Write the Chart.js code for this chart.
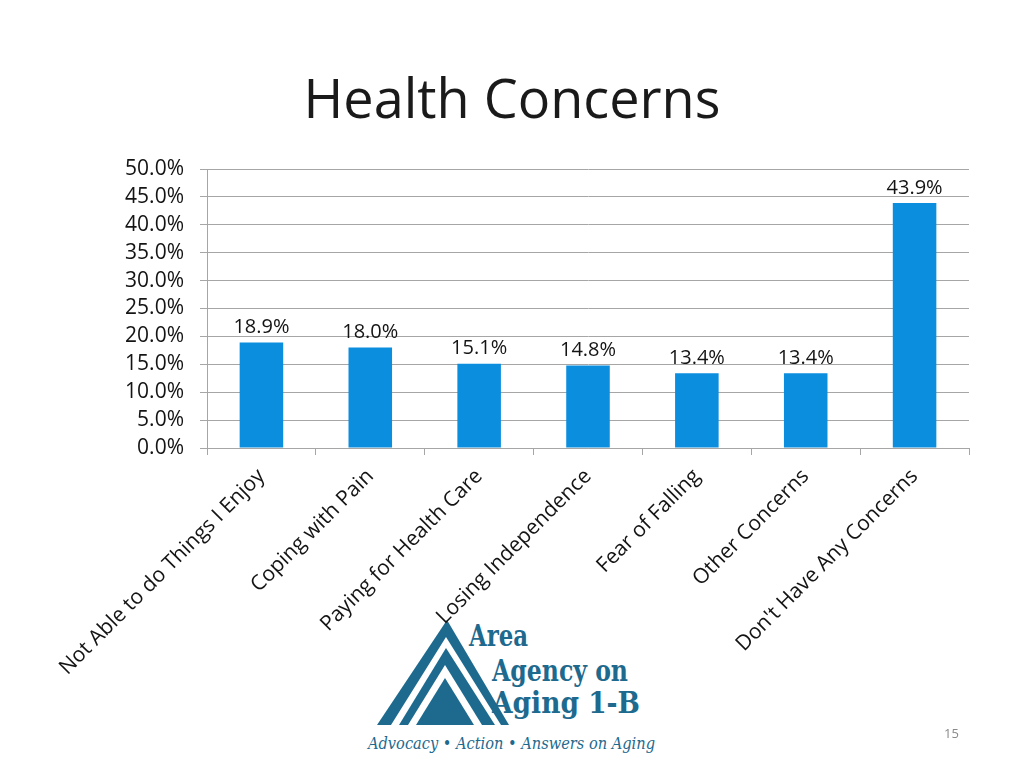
<!doctype html>
<html lang="en"><head>
<meta charset="utf-8"/>
<title>Health Concerns</title>
<script src="https://cdn.jsdelivr.net/npm/chart.js@4.4.6/dist/chart.umd.min.js"></script>
<style>
  *{box-sizing:border-box}
  body{margin:0;background:#fff;width:1024px;height:768px;overflow:hidden;position:relative;font-family:"Open Sans",sans-serif}
  h1{position:absolute;left:0;top:61px;width:1024px;margin:0;text-align:center;font-weight:400;font-size:54px;line-height:72px;color:#1a1a1a}
  #logo{position:absolute;left:0;top:0;z-index:1}
  .wrap{position:absolute;left:0;top:0;width:1024px;height:768px;z-index:2}
  .page{position:absolute;left:944px;top:724px;font-size:13px;color:#8a8a8a;z-index:3}
</style></head>
<body>
<h1>Health Concerns</h1>
<svg id="logo" width="1024" height="768">
  <g fill="#1e6a8e">
    <polygon points="447,620 377,725 509,725"/>
    <polygon points="446,637 391,725 501,725" fill="#fff"/>
    <polygon points="446,648 399,725 495,725"/>
    <polygon points="445,665 408,725 482,725" fill="#fff"/>
    <polygon points="445,678 416,725 474,725"/>
    <text x="469" y="646" font-family="DejaVu Serif Condensed" font-weight="bold" font-size="29" textLength="59" lengthAdjust="spacingAndGlyphs">Area</text>
    <text x="492" y="681" font-family="DejaVu Serif Condensed" font-weight="bold" font-size="30" textLength="136" lengthAdjust="spacingAndGlyphs">Agency on</text>
    <text x="492" y="713" font-family="DejaVu Serif Condensed" font-weight="bold" font-size="30" textLength="148" lengthAdjust="spacingAndGlyphs">Aging 1-B</text>
    <text x="368" y="749" font-family="DejaVu Serif Condensed" font-style="italic" font-size="17" textLength="287" lengthAdjust="spacingAndGlyphs">Advocacy • Action • Answers on Aging</text>
  </g>
</svg>
<div class="wrap"><canvas id="c"></canvas></div>
<div class="page">15</div>
<script>
// values
const categories = ['Not Able to do Things I Enjoy','Coping with Pain','Paying for Health Care',
  'Losing Independence','Fear of Falling','Other Concerns',"Don't Have Any Concerns"];
const percents = [18.9, 18.0, 15.1, 14.8, 13.4, 13.4, 43.9];
const yTicks = [0, 5, 10, 15, 20, 25, 30, 35, 40, 45, 50];

const FONT = '"Open Sans", sans-serif';
const INK = '#141414', GRID = '#a6a6a6';
const fmt = v => Number(v).toFixed(1) + '%';

// no datalabels plugin offline, so draw the value above each bar
const barValues = {
  id: 'barValues',
  afterDatasetsDraw(chart) {
    const ctx = chart.ctx;
    ctx.save();
    ctx.font = '20px ' + FONT;
    ctx.fillStyle = INK;
    ctx.textAlign = 'center';
    ctx.textBaseline = 'bottom';
    chart.getDatasetMeta(0).data.forEach((bar, i) => {
      ctx.fillText(fmt(percents[i]), bar.x, bar.y - 5);
    });
    ctx.restore();
  }
};

// keep the plot area where the slide has it: 207..969 x 169..448
function noPad(s) { s.paddingLeft = s.paddingRight = s.paddingTop = s.paddingBottom = 0; }

new Chart(document.getElementById('c'), {
  type: 'bar',
  data: {
    labels: categories,
    datasets: [{ data: percents, backgroundColor: '#0b8ede', barPercentage: 0.4, categoryPercentage: 1 }]
  },
  options: {
    responsive: true, maintainAspectRatio: false, animation: false,
    layout: { padding: { left: 107, right: 55, top: 169, bottom: 0 } },
    plugins: { legend: { display: false }, tooltip: { enabled: false }, title: { display: false } },
    scales: {
      x: {
        grid: { offset: true, drawOnChartArea: false, drawTicks: true, tickLength: 7, color: GRID },
        border: { color: GRID },
        ticks: { color: INK, font: { family: FONT, size: 21 }, minRotation: 45, maxRotation: 45, padding: 9, autoSkip: false },
        afterFit(s) { s.height = 320; noPad(s); }
      },
      y: {
        min: 0, max: 50,
        afterBuildTicks(s) { s.ticks = yTicks.map(v => ({ value: v })); },
        grid: { color: GRID, tickLength: 7 },
        border: { color: GRID },
        ticks: { color: INK, font: { family: FONT, size: 21 }, padding: 16, autoSkip: false, callback: v => fmt(v) },
        afterFit(s) { s.width = 100; noPad(s); }
      }
    }
  },
  plugins: [barValues]
});
</script>
</body></html>
